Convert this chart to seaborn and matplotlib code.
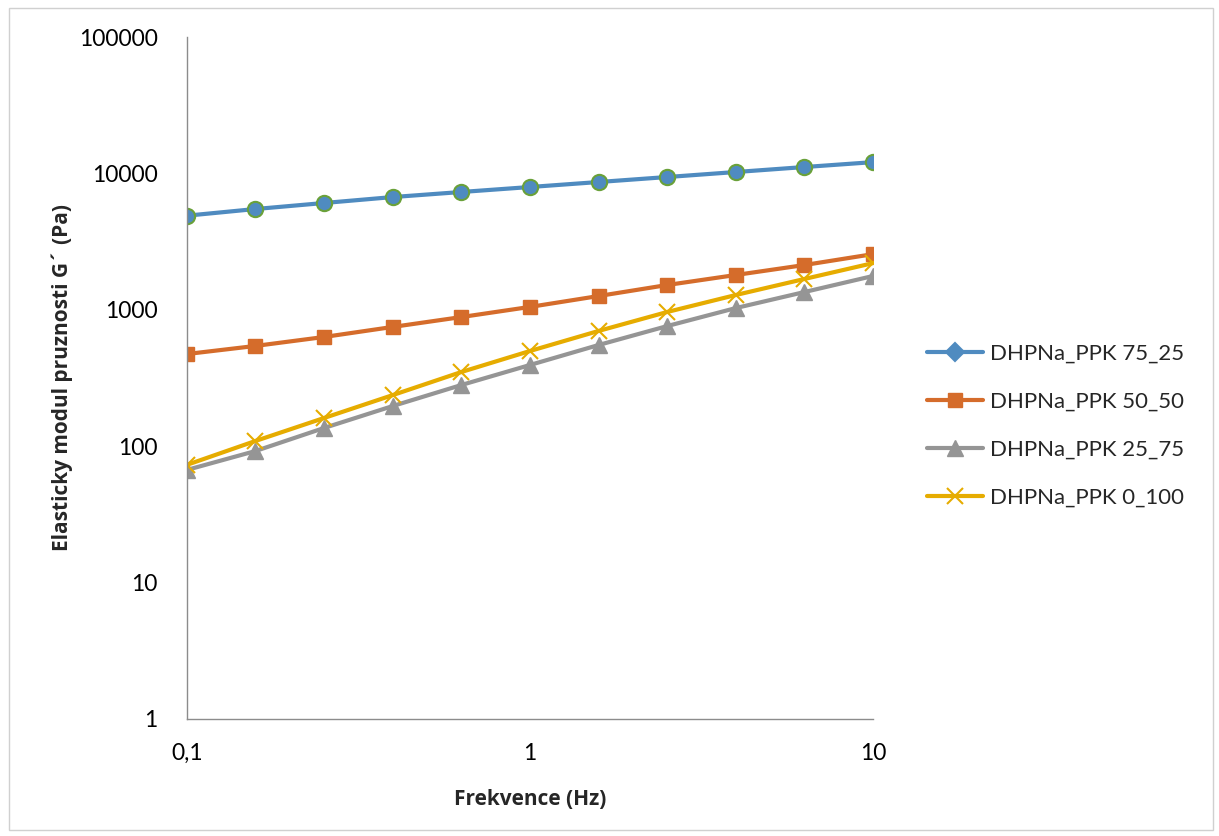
import numpy as np
import pandas as pd
import matplotlib
matplotlib.use("Agg")
import matplotlib.pyplot as plt
from matplotlib.patches import Rectangle
from matplotlib.ticker import FixedLocator, FixedFormatter, NullLocator
import seaborn as sns

# data
frekvence = [0.1, 0.158, 0.251, 0.398, 0.631, 1.0, 1.585, 2.512, 3.981, 6.31, 10.0]
g_75_25 = [4900, 5480, 6070, 6710, 7310, 7950, 8650, 9410, 10240, 11140, 12100]
g_50_50 = [474, 543, 632, 749, 885, 1050, 1262, 1520, 1800, 2130, 2560]
g_25_75 = [67, 92, 136, 197, 281, 394, 552, 760, 1030, 1350, 1770]
g_0_100 = [73, 109, 161, 237, 350, 499, 700, 964, 1284, 1683, 2200]
nazvy = ["DHPNa_PPK 75_25", "DHPNa_PPK 50_50", "DHPNa_PPK 25_75", "DHPNa_PPK 0_100"]

sns.set_style("white")
plt.rcParams["font.family"] = ["Lato", "DejaVu Sans"]

fig = plt.figure(figsize=(12.19, 8.36), dpi=100)
ax = fig.add_axes([0.1534, 0.14, 0.5628, 0.8157])

# ramecek kolem celeho grafu
fig.patches.append(Rectangle((0.007, 0.007), 0.988, 0.983, transform=fig.transFigure,
                             fill=False, edgecolor="#d0d0d0", linewidth=1))

styly = [
    dict(marker="o", color="#4f8bc0", mfc="#4f8bc0", mec="#6aa13a", ms=11, mew=1.5),
    dict(marker="s", color="#d56c2b", mfc="#d56c2b", mec="#d56c2b", ms=10, mew=1),
    dict(marker="^", color="#959595", mfc="#959595", mec="#959595", ms=11, mew=1),
    dict(marker="x", color="#e6ac00", mfc="#e6ac00", mec="#e6ac00", ms=11, mew=1.5),
]

for hodnoty, nazev, st in zip([g_75_25, g_50_50, g_25_75, g_0_100], nazvy, styly):
    sns.lineplot(x=frekvence, y=hodnoty, ax=ax, label=nazev, linewidth=3,
                 color=st["color"], marker=st["marker"], markersize=st["ms"],
                 markerfacecolor=st["mfc"], markeredgecolor=st["mec"],
                 markeredgewidth=st["mew"])

ax.set_xscale("log")
ax.set_yscale("log")
ax.set_xlim(0.1, 10)
ax.set_ylim(1, 100000)

ax.xaxis.set_major_locator(FixedLocator([0.1, 1, 10]))
ax.xaxis.set_major_formatter(FixedFormatter(["0,1", "1", "10"]))
ax.xaxis.set_minor_locator(NullLocator())
yt = [1, 10, 100, 1000, 10000, 100000]
ax.yaxis.set_major_locator(FixedLocator(yt))
ax.yaxis.set_major_formatter(FixedFormatter([str(v) for v in yt]))
ax.yaxis.set_minor_locator(NullLocator())

for s in ["top", "right"]:
    ax.spines[s].set_visible(False)
for s in ["left", "bottom"]:
    ax.spines[s].set_color("#8c8c8c")
    ax.spines[s].set_linewidth(1)
ax.tick_params(axis="both", which="major", direction="out", length=7, width=1,
               color="#8c8c8c", labelsize=16.5, labelcolor="black")
ax.tick_params(axis="y", pad=14)
ax.tick_params(axis="x", pad=10)

ax.set_xlabel("Frekvence (Hz)", fontsize=15, fontweight="bold", labelpad=18,
              family=["Open Sans", "DejaVu Sans"])
ax.set_ylabel("Elasticky modul pruznosti G´ (Pa)", fontsize=15, fontweight="bold", labelpad=4,
              family=["Open Sans", "DejaVu Sans"])

leg = ax.legend(loc="center left", bbox_to_anchor=(1.05, 0.43), frameon=False,
                fontsize=16, handlelength=2.5, labelspacing=1.25, handletextpad=0.3)
# v legende je u prvni serie kosoctverec
h0 = leg.legend_handles[0]
h0.set_marker("D")
h0.set_markerfacecolor("#4f8bc0")
h0.set_markeredgecolor("#4f8bc0")
h0.set_markersize(9)

fig.savefig("out.png", dpi=100)
